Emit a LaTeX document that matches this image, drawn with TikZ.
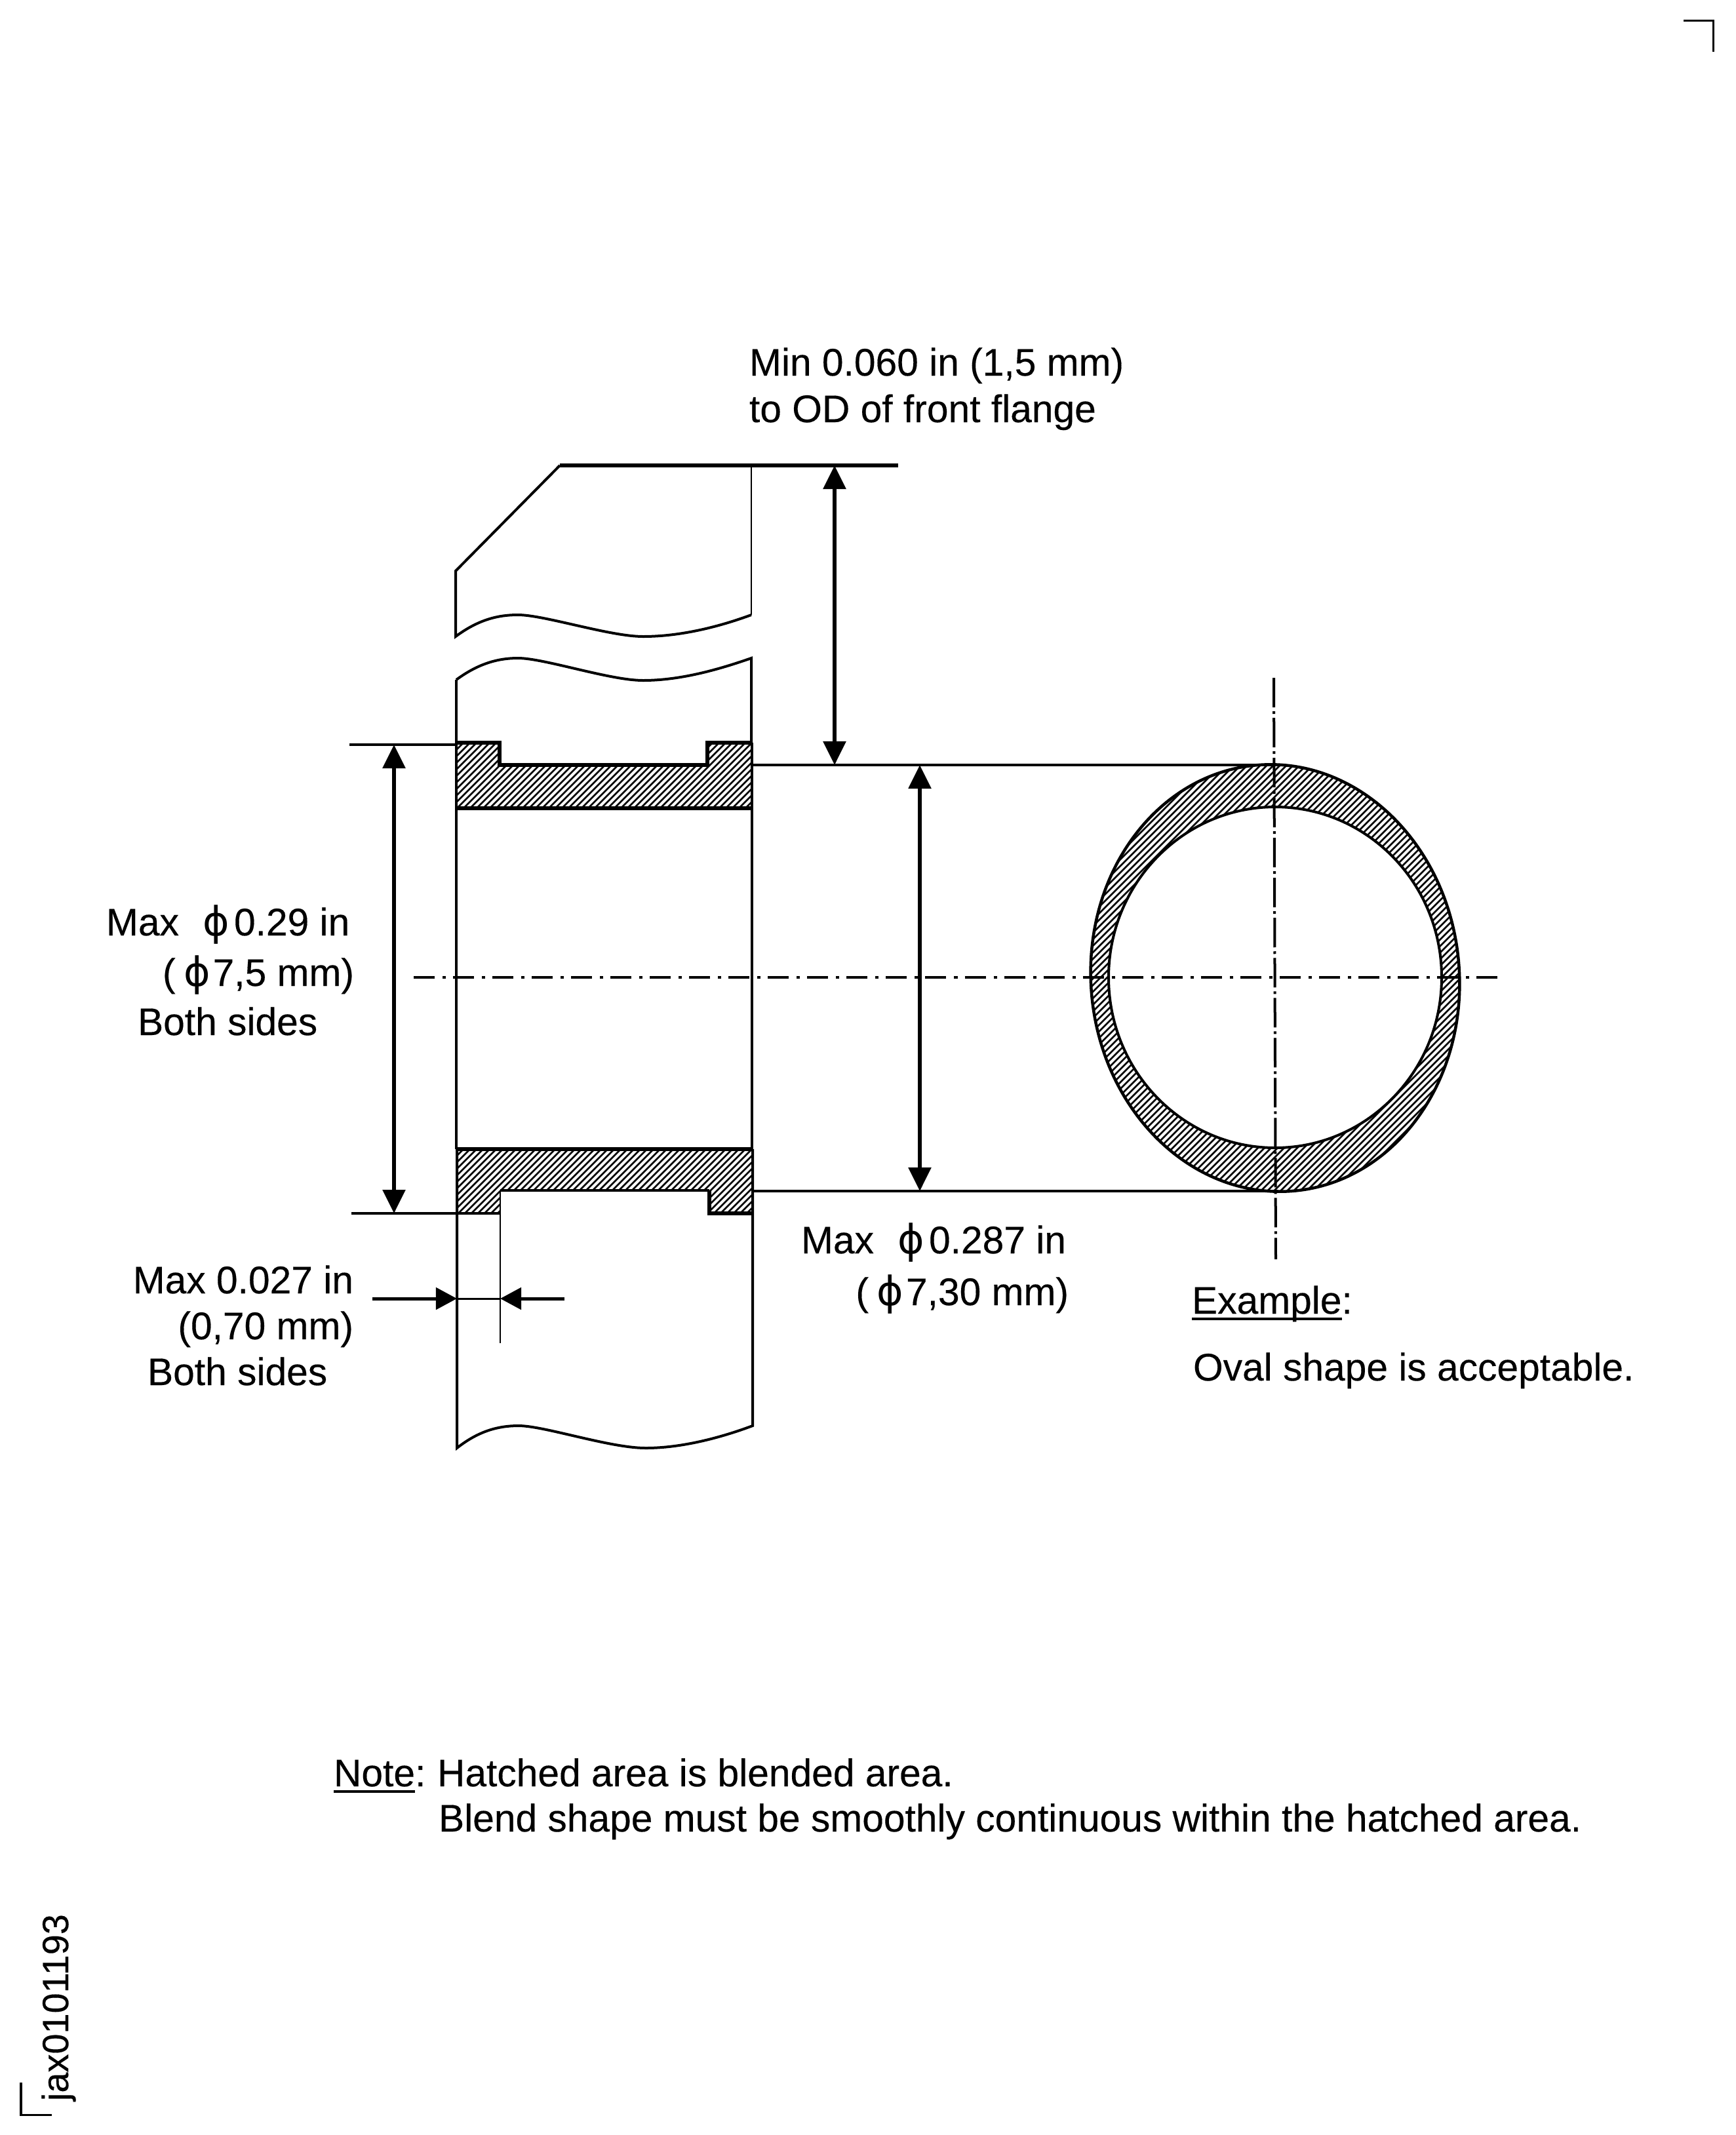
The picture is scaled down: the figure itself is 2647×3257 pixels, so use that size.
\documentclass[tikz,border=0pt]{standalone}
\usepackage{fontspec}
\setmainfont{Liberation Sans}[FakeBold=0.25]
\newfontfamily\phifont{DejaVu Sans}
\usetikzlibrary{arrows.meta}
\newcommand{\ph}{{\phifont\fontsize{17.5}{18}\selectfont ϕ}}
\tikzset{
  lbl/.style={inner sep=0pt,outer sep=0pt,font=\fontsize{16.7}{19}\selectfont},
  lw/.style={lbl,anchor=base west},
  le/.style={lbl,anchor=base east},
  thinl/.style={line width=0.028cm},
  med/.style={line width=0.04cm},
  thick5/.style={line width=0.055cm},
  dimarrow/.style={line width=0.055cm,{Triangle[length=0.36cm,width=0.34cm]}-{Triangle[length=0.36cm,width=0.34cm]}},
  sidearrow/.style={line width=0.05cm,-{Triangle[length=0.32cm,width=0.33cm]}},
  hatchl/.style={line width=0.027cm},
  ctrh/.style={line width=0.04cm,dash pattern=on 0.32cm off 0.12cm on 0.05cm off 0.11cm},
  ctrv/.style={line width=0.04cm,dash pattern=on 0.45cm off 0.06cm on 0.04cm off 0.06cm},
  cornermark/.style={line width=0.03cm}
}
\begin{document}
\begin{tikzpicture}[x=0.01cm,y=-0.01cm,line join=miter]
\useasboundingbox (0,0) rectangle (2647,3257);
\fill[white] (0,0) rectangle (2647,3257);

% named points
\coordinate (topL) at (854,710);
\coordinate (topC) at (1146,710);
\coordinate (topR) at (1370,710);
\coordinate (extTL) at (533,1136);
\coordinate (extTW) at (696,1136);
\coordinate (extBL) at (536,1851);
\coordinate (extBW) at (763,1851);
\coordinate (bandTR) at (1147,1167);
\coordinate (ringT) at (1950,1167);
\coordinate (bandBR) at (1147,1817);
\coordinate (ringB) at (1950,1817);
\coordinate (a1t) at (1273,710);
\coordinate (a1b) at (1273,1167);
\coordinate (a2t) at (601,1136);
\coordinate (a2b) at (601,1851);
\coordinate (a3t) at (1403,1167);
\coordinate (a3b) at (1403,1817);
\coordinate (a4l) at (568,1981);
\coordinate (a4tipl) at (697,1981);
\coordinate (a4r) at (861,1981);
\coordinate (a4tipr) at (763,1981);
\coordinate (tickEnd) at (763,2049);
\coordinate (chL) at (631,1491);
\coordinate (chR) at (2290,1491);
\coordinate (cvT) at (1943,1034);
\coordinate (cvB) at (1946,1921);

% hatched flanges
\begin{scope}
\clip (696,1134) -- (762,1134) -- (762,1167) -- (1079,1167) -- (1079,1134) -- (1147,1134) -- (1147,1233) -- (696,1233) -- cycle;
\draw[hatchl] foreach \k in {-180,-170,...,390} { (\k,2000) -- ++(1000,-1000) };
\end{scope}
\begin{scope}
\clip (696,1753) -- (1147,1753) -- (1147,1851) -- (1082,1851) -- (1082,1816) -- (763,1816) -- (763,1851) -- (696,1851) -- cycle;
\draw[hatchl] foreach \k in {440,450,...,1010} { (\k,2000) -- ++(1000,-1000) };
\end{scope}
\draw[thick5] (696,1133) -- (762,1133) -- (762,1167) -- (1079,1167) -- (1079,1133) -- (1147,1133);
\draw[line width=0.06cm] (696,1233) -- (1147,1233);
\draw[line width=0.06cm] (696,1753) -- (1147,1753);
\draw[med] (763,1816) -- (1082,1816);
\draw[thinl] (763,1816) -- (763,1851);
\draw[thick5] (1147,1851) -- (1082,1851) -- (1082,1816);

% body outline
\draw[thick5] (topL) -- (topR);
\draw[med] (topL) -- (695,871) -- (695,971)
  .. controls (730,945) and (760,938) .. (790,938)
  .. controls (830,938) and (930,971) .. (981,971)
  .. controls (1040,971) and (1100,955) .. (1146,938);
\draw[thinl] (topC) -- (1146,938);
\draw[med] (696,1037)
  .. controls (730,1012) and (760,1004) .. (790,1004)
  .. controls (830,1004) and (930,1038) .. (981,1038)
  .. controls (1040,1038) and (1100,1020) .. (1146,1004)
  -- (1146,1133);
\draw[med] (696,1037) -- (696,1133);
\draw[med] (696,1133) -- (696,1753);
\draw[med] (1147,1133) -- (1147,1753);
\draw[med] (697,1753) -- (697,2209)
  .. controls (730,2183) and (760,2175) .. (791,2175)
  .. controls (830,2175) and (930,2209) .. (985,2209)
  .. controls (1040,2209) and (1100,2193) .. (1148,2175)
  -- (1148,1753);

% extension lines
\draw[med] (extTL) -- (extTW);
\draw[med] (extBL) -- (extBW);
\draw[med] (bandTR) -- (ringT);
\draw[med] (bandBR) -- (ringB);
\draw[thinl] (extBW) -- (tickEnd);

% oval with hatching
\begin{scope}
\clip[rotate around={5:(1945,1492)}] (1945,1492) ellipse [x radius=281, y radius=326];
\draw[hatchl] foreach \k in {820,830,...,2050} { (\k,2000) -- ++(1000,-1000) };
\end{scope}
\draw[line width=0.045cm,rotate around={5:(1945,1492)}] (1945,1492) ellipse [x radius=281, y radius=326];
\draw[line width=0.04cm,fill=white] (1945,1491) ellipse [x radius=254, y radius=260];

% centre lines
\draw[ctrh] (chL) -- (chR);
\draw[ctrv] (cvT) -- (cvB);

% dimension arrows
\draw[dimarrow] (a1t) -- (a1b);
\draw[dimarrow] (a2t) -- (a2b);
\draw[dimarrow] (a3t) -- (a3b);
\draw[sidearrow] (a4l) -- (a4tipl);
\draw[sidearrow] (a4r) -- (a4tipr);
\draw[line width=0.03cm] (a4tipl) -- (a4tipr);

% corner marks
\draw[cornermark] (2568,31) -- (2613,31) -- (2613,79);
\draw[cornermark] (32,3177) -- (32,3226) -- (79,3226);

% labels
\node[lw] (t1) at (1143,573) {Min 0.060 in (1,5 mm)};
\node[lw] (t2) at (1143,644) {to OD of front flange};
\node[lw] (t3) at (162,1427) {Max\hspace{0.62em}\ph\hspace{0.12em}0.29 in};
\node[le] (t4) at (540,1504) {(\hspace{0.22em}\ph\hspace{0.06em}7,5 mm)};
\node[lw] (t5) at (210,1579) {Both sides};
\node[le] (t6) at (539,1973) {Max 0.027 in};
\node[le] (t7) at (539,2043) {(0,70 mm)};
\node[lw] (t8) at (225,2113) {Both sides};
\node[lw] (t9) at (1222,1912) {Max\hspace{0.62em}\ph\hspace{0.12em}0.287 in};
\node[le] (t10) at (1630,1991) {(\hspace{0.22em}\ph\hspace{0.06em}7,30 mm)};
\node[lw] (t11) at (1818,2004) {Example};
\node[lbl,anchor=base west] (t11c) at (t11.base east) {:};
\draw[line width=0.04cm] ([yshift=-0.08cm]t11.base west) -- ([yshift=-0.08cm]t11.base east);
\node[lw] (t12) at (1820,2106) {Oval shape is acceptable.};
\node[lw] (t13) at (509,2725) {Note};
\node[lbl,anchor=base west] (t13c) at (t13.base east) {:\hspace{0.3em}Hatched area is blended area.};
\draw[line width=0.04cm] ([yshift=-0.08cm]t13.base west) -- ([yshift=-0.08cm]t13.base east);
\node[lw] (t14) at (669,2794) {Blend shape must be smoothly continuous within the hatched area.};
\node[lbl,anchor=base west,rotate=90,font=\fontsize{15.9}{19}\selectfont] (t15) at (104,3205) {jax0101193};
\end{tikzpicture}
\end{document}
